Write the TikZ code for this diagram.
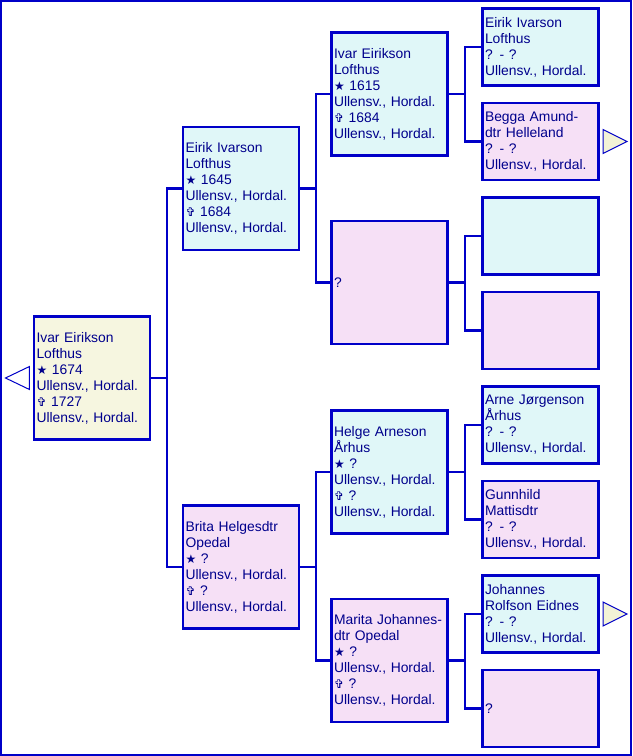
\documentclass[tikz,border=0pt]{standalone}
\usepackage{fontspec}
\setmainfont{Liberation Sans}
\newfontfamily\symfont{DejaVu Sans}
\definecolor{lineblue}{RGB}{0,0,200}
\definecolor{textblue}{RGB}{0,0,140}
\definecolor{malefill}{RGB}{224,247,248}
\definecolor{femfill}{RGB}{246,224,246}
\definecolor{rootfill}{RGB}{246,246,224}
\definecolor{morefill}{RGB}{243,243,214}
\newcommand\born{{\symfont\fontsize{9}{12}\selectfont ★}}
\newcommand\died{{\symfont\fontsize{9}{12}\selectfont ✞}}
\begin{document}
\begin{tikzpicture}[x=0.75pt, y=-0.75pt, every node/.style={font=\fontsize{10.4}{12}\selectfont, text=textblue}]
  \tikzstyle{person}=[draw=lineblue,line width=1.8pt,rectangle,align=left,text width=83.25pt,inner xsep=1.875pt,inner ysep=0pt,minimum height=92.25pt]
  \tikzstyle{small}=[person,minimum height=57.75pt]
  \tikzstyle{link}=[draw=lineblue,line width=1.8pt]
  \tikzstyle{more}=[draw=lineblue,line width=0.75pt,line join=miter]
  \useasboundingbox (0,0) rectangle (632,756);
  \draw[lineblue,line width=1.5pt] (1,1) rectangle (631,755);
  % generation 0 and 1
  \node[person,fill=rootfill] (p1) at (92,378) {Ivar Eirikson\\Lofthus\\\born{} 1674\\Ullensv., Hordal.\\\died{} 1727\\Ullensv., Hordal.};
  \node[person,fill=malefill] (p2) at (241,188.5) {Eirik Ivarson\\Lofthus\\\born{} 1645\\Ullensv., Hordal.\\\died{} 1684\\Ullensv., Hordal.};
  \node[person,fill=femfill] (p3) at (241,567) {Brita Helgesdtr\\Opedal\\\born{} ?\\Ullensv., Hordal.\\\died{} ?\\Ullensv., Hordal.};
  % generation 2
  \node[person,fill=malefill] (p4) at (389.5,94) {Ivar Eirikson\\Lofthus\\\born{} 1615\\Ullensv., Hordal.\\\died{} 1684\\Ullensv., Hordal.};
  \node[person,fill=femfill] (p5) at (389.5,282.5) {?};
  \node[person,fill=malefill] (p6) at (389.5,472) {Helge Arneson\\Århus\\\born{} ?\\Ullensv., Hordal.\\\died{} ?\\Ullensv., Hordal.};
  \node[person,fill=femfill] (p7) at (389.5,660.5) {Marita Johannes-\\dtr Opedal\\\born{} ?\\Ullensv., Hordal.\\\died{} ?\\Ullensv., Hordal.};
  % generation 3
  \node[small,fill=malefill] (p8) at (540.5,47) {Eirik Ivarson\\Lofthus\\? - ?\\Ullensv., Hordal.};
  \node[small,fill=femfill] (p9) at (540.5,141.5) {Begga Amund-\\dtr Helleland\\? - ?\\Ullensv., Hordal.};
  \node[small,fill=malefill] (p10) at (540.5,236) {};
  \node[small,fill=femfill] (p11) at (540.5,330.5) {};
  \node[small,fill=malefill] (p12) at (540.5,425) {Arne Jørgenson\\Århus\\? - ?\\Ullensv., Hordal.};
  \node[small,fill=femfill] (p13) at (540.5,519.5) {Gunnhild\\Mattisdtr\\? - ?\\Ullensv., Hordal.};
  \node[small,fill=malefill] (p14) at (540.5,614) {Johannes\\Rolfson Eidnes\\? - ?\\Ullensv., Hordal.};
  \node[small,fill=femfill] (p15) at (540.5,708.5) {?};
  % parent links
  \foreach \c/\f/\m in {p1/p2/p3, p2/p4/p5, p3/p6/p7, p4/p8/p9, p5/p10/p11, p6/p12/p13, p7/p14/p15} {
    \draw[link] (\c.east) -- ++(16,0) |- (\f.west);
    \draw[link] (\c.east) -- ++(16,0) |- (\m.west);
  }
  % more arrows
  \draw[more,fill=white] ([xshift=-2.5pt]p1.west) ++(0,-11.5) -- ++(-24,11.5) -- ++(24,11.5) -- cycle;
  \draw[more,fill=morefill] ([xshift=2.5pt]p9.east) ++(0,-12) -- ++(24,12) -- ++(-24,12) -- cycle;
  \draw[more,fill=morefill] ([xshift=2.5pt]p14.east) ++(0,-12) -- ++(24,12) -- ++(-24,12) -- cycle;
\end{tikzpicture}
\end{document}
